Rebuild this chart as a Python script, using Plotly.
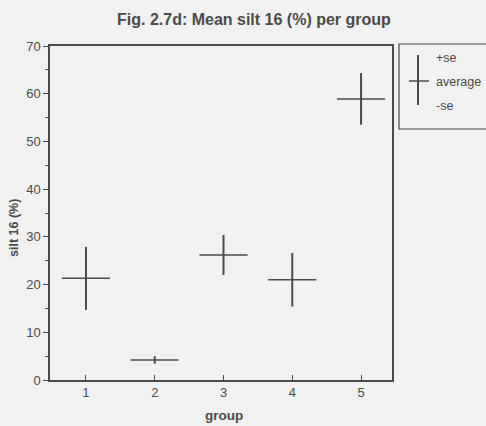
import plotly.graph_objects as go

# Mean silt 16 (%) per group with standard errors
groups = [1, 2, 3, 4, 5]
mean_silt = [21.3, 4.2, 26.2, 21.0, 58.9]
se_silt = [6.6, 0.8, 4.2, 5.6, 5.4]

W, H = 486, 426
ML, MR, MT, MB = 50, 94, 46, 46
INK = "#4a4a4a"
BG = "#f1f1f1"
FONT = "Liberation Sans Narrow, Arial Narrow, Liberation Sans, Arial, sans-serif"

fig = go.Figure()
fig.add_trace(go.Scatter(
    x=groups, y=mean_silt, mode="markers",
    marker=dict(size=0.1, color=INK),
    error_y=dict(type="data", array=se_silt, symmetric=True,
                 width=0, thickness=2, color=INK),
    error_x=dict(type="constant", value=0.35, symmetric=True,
                 width=0, thickness=1.5, color=INK),
    showlegend=False, hoverinfo="skip",
))

# convert pixel positions to paper coordinates for the legend box
pw, ph = W - ML - MR, H - MT - MB
def px(x):
    return (x - ML) / pw
def py(y):
    return 1 - (y - MT) / ph

shapes = [
    dict(type="rect", xref="paper", yref="paper",
         x0=px(399), x1=px(510), y0=py(129), y1=py(44),
         line=dict(color=INK, width=1.2), fillcolor=BG),
    dict(type="line", xref="paper", yref="paper",
         x0=px(418), x1=px(418), y0=py(105), y1=py(55),
         line=dict(color=INK, width=2)),
    dict(type="line", xref="paper", yref="paper",
         x0=px(409), x1=px(429), y0=py(81), y1=py(81),
         line=dict(color=INK, width=1.5)),
]
annotations = []
for label, yy in [("+se", 58), ("average", 82), ("-se", 106)]:
    annotations.append(dict(
        text=label, xref="paper", yref="paper", x=px(434), y=py(yy),
        xanchor="left", yanchor="middle", showarrow=False,
        font=dict(family=FONT, size=12.5, color=INK)))
annotations.append(dict(
    text="<b>silt 16 (%)</b>", xref="paper", yref="paper",
    x=px(14), y=py(228), xanchor="center", yanchor="middle",
    textangle=-90, showarrow=False,
    font=dict(family=FONT, size=12.5, color=INK)))
annotations.append(dict(
    text="<b>group</b>", xref="paper", yref="paper",
    x=px(224), y=py(415), xanchor="center", yanchor="middle",
    showarrow=False, font=dict(family=FONT, size=13.5, color=INK)))
annotations.append(dict(
    text="<b>Fig. 2.7d: Mean silt 16 (%) per group</b>", xref="paper", yref="paper",
    x=px(254), y=py(20), xanchor="center", yanchor="middle",
    showarrow=False, font=dict(family=FONT, size=16, color=INK)))

fig.update_layout(
    width=W, height=H,
    margin=dict(l=ML, r=MR, t=MT, b=MB, pad=0),
    paper_bgcolor=BG, plot_bgcolor=BG,
    font=dict(family=FONT, size=12, color=INK),
    shapes=shapes, annotations=annotations,
    showlegend=False,
)
fig.update_xaxes(
    range=[0.477, 5.45], tickvals=groups, ticktext=[str(g) for g in groups],
    ticks="inside", ticklen=5, tickwidth=1, tickcolor=INK,
    showline=True, linecolor=INK, linewidth=1.5, mirror=True,
    showgrid=False, zeroline=False,
    tickfont=dict(family=FONT, size=13, color=INK),
)
fig.update_yaxes(
    range=[0, 70], tickvals=[0, 10, 20, 30, 40, 50, 60, 70],
    ticks="outside", ticklen=5, tickwidth=1, tickcolor=INK,
    minor=dict(tickvals=[5, 15, 25, 35, 45, 55, 65], ticks="outside",
               ticklen=3, tickwidth=1, tickcolor=INK),
    showline=True, linecolor=INK, linewidth=1.5, mirror=True,
    showgrid=False, zeroline=False,
    tickfont=dict(family=FONT, size=13, color=INK),
)

fig.write_html("out.html")
